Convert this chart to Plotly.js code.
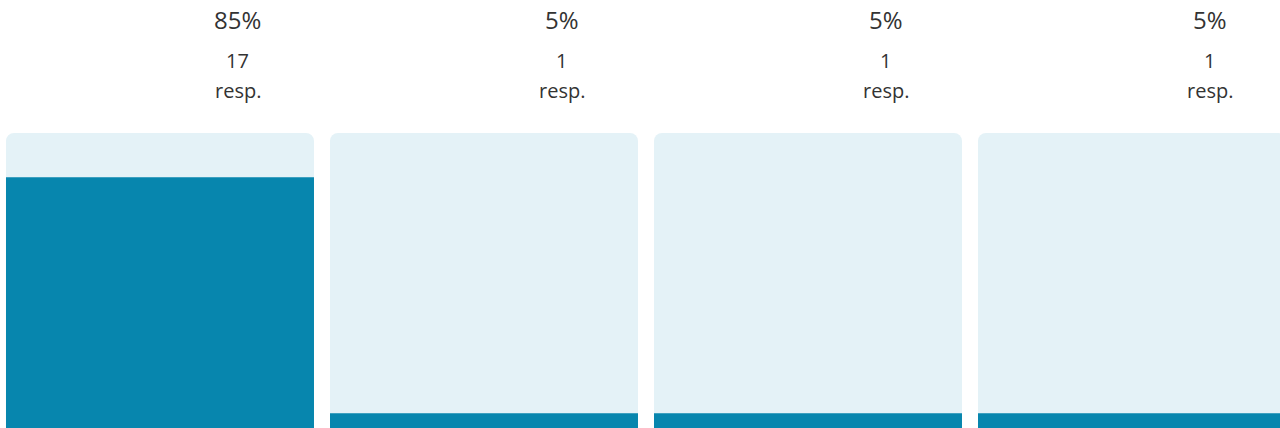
<!DOCTYPE html>
<html>
<head>
<meta charset="utf-8">
<script src="https://cdn.plot.ly/plotly-3.0.1.min.js"></script>
<style>
html,body{margin:0;padding:0;background:#fff;}
#chart{width:1280px;height:428px;}
</style>
</head>
<body>
<div id="chart"></div>
<script>
// Data
var categories = ["Option 1", "Option 2", "Option 3", "Option 4"];
var percents = [85, 5, 5, 5];
var responses = [17, 1, 1, 1];
var fullScale = [100, 100, 100, 100];

var dark = "#0786AE";
var light = "#E4F2F7";
var textColor = "#333333";

var xIdx = categories.map(function(_, i){ return i; });

var bgTrace = {
  type: "bar",
  x: xIdx,
  y: fullScale,
  marker: {color: light, cornerradius: 8, line: {width: 0}},
  hoverinfo: "skip",
  showlegend: false
};
var fgTrace = {
  type: "bar",
  x: xIdx,
  y: percents,
  marker: {color: dark, line: {width: 0}},
  hoverinfo: "skip",
  showlegend: false
};

var labelOffset = 0.2407;
var annotations = [];
xIdx.forEach(function(i){
  annotations.push({
    x: i + labelOffset, xref: "x", y: 1.386, yref: "paper",
    xanchor: "center", yanchor: "middle", showarrow: false,
    text: percents[i] + "%", font: {size: 24, color: textColor, family: "Open Sans"}
  });
  annotations.push({
    x: i + labelOffset, xref: "x", y: 1.2441, yref: "paper",
    xanchor: "center", yanchor: "middle", showarrow: false,
    text: String(responses[i]), font: {size: 20, color: textColor, family: "Open Sans"}
  });
  annotations.push({
    x: i + labelOffset, xref: "x", y: 1.145, yref: "paper",
    xanchor: "center", yanchor: "middle", showarrow: false,
    text: "resp.", font: {size: 20, color: textColor, family: "Open Sans"}
  });
});

var layout = {
  width: 1280, height: 428,
  margin: {l: 0, r: 0, t: 133, b: 0, pad: 0},
  paper_bgcolor: "#ffffff",
  plot_bgcolor: "#ffffff",
  barmode: "overlay",
  bargap: 0.0494,
  showlegend: false,
  xaxis: {range: [-0.4938, 3.4568], visible: false, fixedrange: true},
  yaxis: {range: [0, 100], visible: false, fixedrange: true},
  annotations: annotations,
  font: {family: "Open Sans", color: textColor}
};

Plotly.newPlot("chart", [bgTrace, fgTrace], layout, {displayModeBar: false, staticPlot: true});
</script>
</body>
</html>
